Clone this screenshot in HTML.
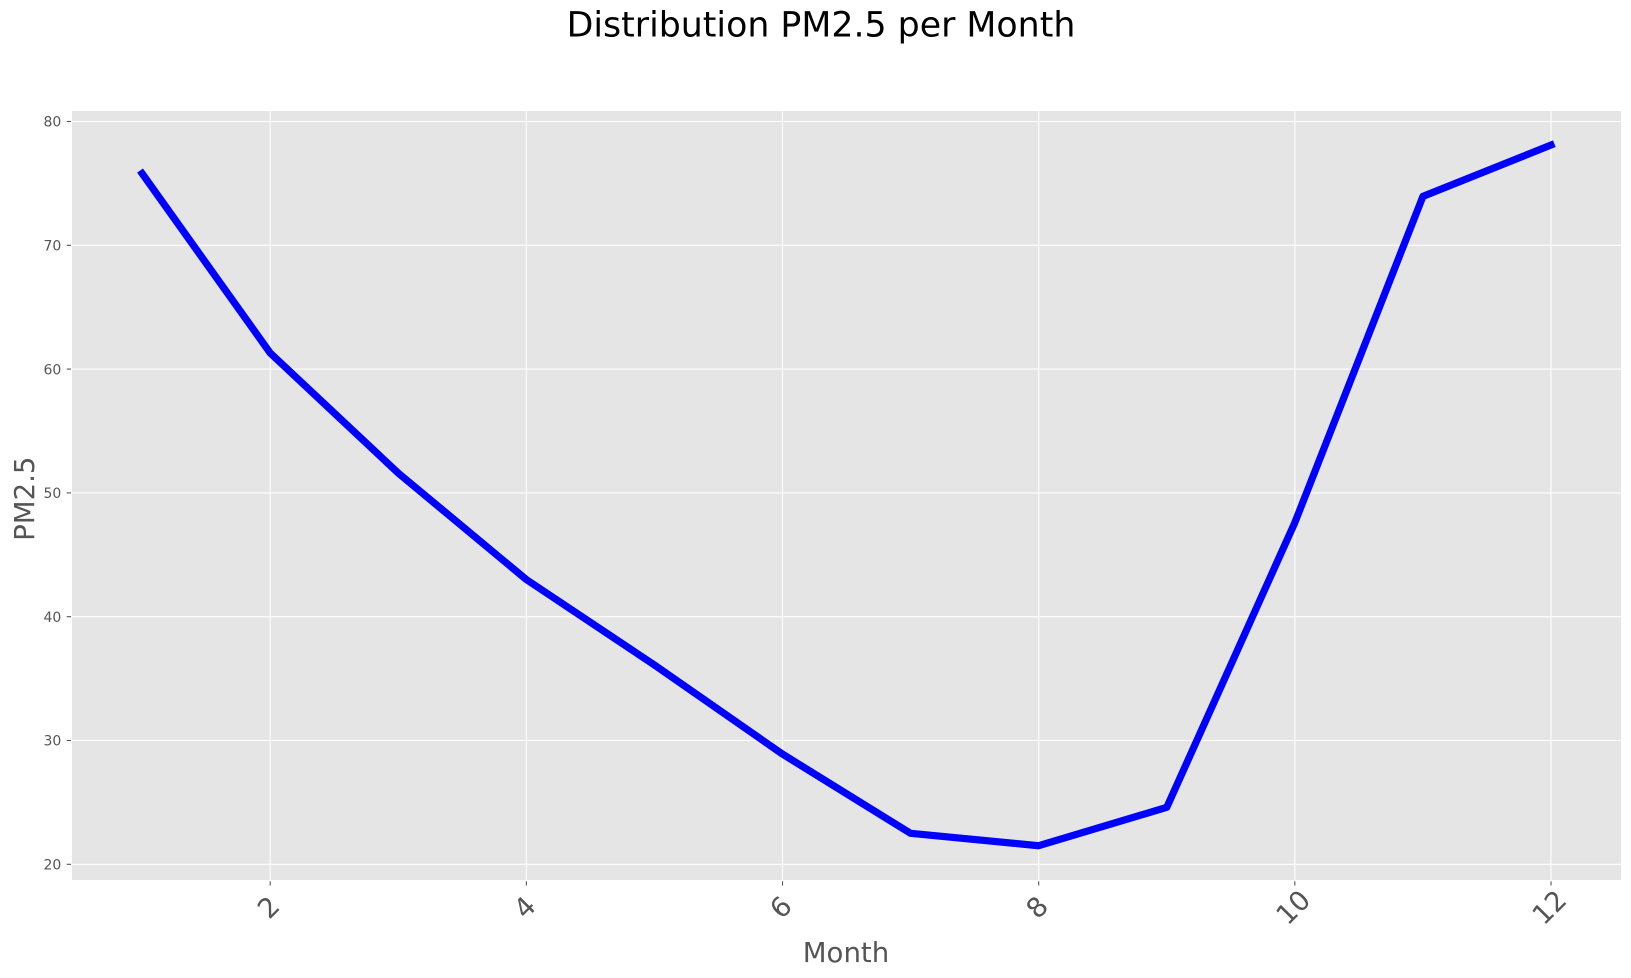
<!DOCTYPE html>
<html>
<head>
<meta charset="utf-8">
<title>Distribution PM2.5 per Month</title>
<style>
html,body{margin:0;padding:0;background:#fff;width:1631px;height:978px;overflow:hidden}
svg{display:block;font-family:"DejaVu Sans","Liberation Sans",sans-serif}
</style>
</head>
<body>
<svg id="chart" xmlns="http://www.w3.org/2000/svg" width="1631" height="978" viewBox="0 0 1631 978">
  <rect x="0" y="0" width="1631" height="978" fill="#ffffff"/>
  <rect x="72" y="111" width="1549" height="769" fill="#e5e5e5"/>
  <g id="grid"></g>
  <g id="ticks"></g>
  <g id="series"></g>
  <text x="821" y="36.7" font-size="34.75" text-anchor="middle" fill="#000000">Distribution PM2.5 per Month</text>
  <text x="846" y="962" font-size="27.6" text-anchor="middle" fill="#555555">Month</text>
  <text transform="translate(34 498.7) rotate(-90)" font-size="27.6" text-anchor="middle" fill="#555555">PM2.5</text>
</svg>
<script>
const months = [1, 2, 3, 4, 5, 6, 7, 8, 9, 10, 11, 12];
const pm25 = [75.8, 61.3, 51.6, 43.0, 36.1, 28.9, 22.5, 21.5, 24.6, 47.6, 73.95, 78.1];
const xTicks = [2, 4, 6, 8, 10, 12];
const yTicks = [20, 30, 40, 50, 60, 70, 80];

const NS = 'http://www.w3.org/2000/svg';
const xScale = v => 270.2 + (v - 2) * 128.08;
const yScale = v => 864.3 - (v - 20) * 12.38;

function make(tag, attrs, parent) {
  const el = document.createElementNS(NS, tag);
  for (const k in attrs) el.setAttribute(k, attrs[k]);
  parent.appendChild(el);
  return el;
}

const grid = document.getElementById('grid');
const ticks = document.getElementById('ticks');
const series = document.getElementById('series');

xTicks.forEach(t => {
  const x = xScale(t);
  const g = make('line', {x1: x, x2: x, y1: 111, y2: 880, stroke: '#ffffff', 'stroke-width': 1.1}, grid);
  
  
  const m = make('line', {x1: x, x2: x, y1: 881.3, y2: 885.5, stroke: '#555555', 'stroke-width': 1.1}, ticks);
  
  
  const lx = x - 1;
  const ly = 908;
  const l = make('text', {x: lx, y: ly, 'font-size': 27.2, fill: '#555555', 'text-anchor': 'middle', 'dominant-baseline': 'central', transform: 'rotate(-45 ' + lx + ' ' + ly + ')'}, ticks);
  l.textContent = String(t);
  
  
});

yTicks.forEach(t => {
  const y = yScale(t);
  const g = make('line', {x1: 72, x2: 1621, y1: y, y2: y, stroke: '#ffffff', 'stroke-width': 1.1}, grid);
  
  
  const m = make('line', {x1: 66.7, x2: 71, y1: y, y2: y, stroke: '#555555', 'stroke-width': 1.1}, ticks);
  
  
  const l = make('text', {x: 61.3, y: y + 5.2, 'font-size': 14, fill: '#555555', 'text-anchor': 'end'}, ticks);
  l.textContent = String(t);
  
  
});

const pts = months.map((m, i) => xScale(m) + ',' + yScale(pm25[i])).join(' ');
const line = make('polyline', {points: pts, fill: 'none', stroke: '#0000ff', 'stroke-width': 7.2, 'stroke-linecap': 'square', 'stroke-linejoin': 'round'}, series);


</script>
</body>
</html>
